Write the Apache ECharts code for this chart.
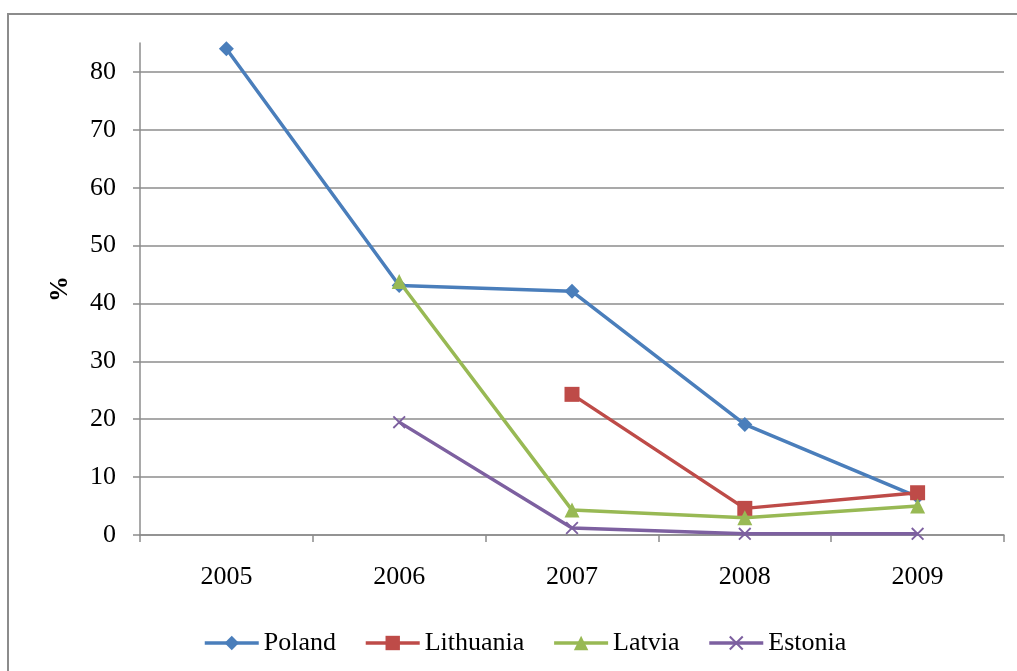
<!DOCTYPE html>
<html>
<head>
<meta charset="utf-8">
<script src="https://cdn.jsdelivr.net/npm/echarts@6/dist/echarts.min.js"></script>
<style>
html,body{margin:0;padding:0;background:#fff;overflow:hidden;}
#frame{position:absolute;left:7px;top:13px;width:1030px;height:680px;border:2px solid #8c8c8c;box-sizing:border-box;}
#chart{position:absolute;left:0;top:0;width:1017px;height:671px;}
</style>
</head>
<body>
<div id="frame"></div>
<div id="chart"></div>
<script>
const years = ['2005', '2006', '2007', '2008', '2009'];
const poland = [84, 43.1, 42.1, 19.1, 6.6];
const lithuania = [null, null, 24.3, 4.6, 7.3];
const latvia = [null, 43.8, 4.3, 3.0, 5.0];
const estonia = [null, 19.5, 1.2, 0.2, 0.2];
const yTicks = [0, 10, 20, 30, 40, 50, 60, 70, 80];

const FONT = '"Liberation Serif", "Times New Roman", serif';
const AXIS = '#8c8c8c';
const xPath = 'path://M0,1L1,0L5,4L9,0L10,1L6,5L10,9L9,10L5,6L1,10L0,9L4,5Z';

function mk(name, data, color, symbol, size) {
  return {
    name: name, type: 'line', data: data,
    symbol: symbol, symbolSize: size, showAllSymbol: true,
    lineStyle: {color: color, width: 3.5},
    itemStyle: {color: color},
    emphasis: {disabled: true},
    animation: false
  };
}

const chart = echarts.init(document.getElementById('chart'), null, {renderer: 'canvas'});
chart.setOption({
  backgroundColor: 'transparent',
  animation: false,
  textStyle: {fontFamily: FONT},
  grid: {left: 140, right: 13, top: 43, bottom: 136, containLabel: false},
  xAxis: {
    type: 'category', data: years, boundaryGap: true,
    axisLine: {lineStyle: {color: AXIS, width: 1.5}},
    axisTick: {show: true, length: 7, lineStyle: {color: AXIS, width: 1.5}},
    axisLabel: {color: '#000', fontFamily: FONT, fontSize: 26, margin: 29}
  },
  yAxis: {
    type: 'value', min: 0, max: 85, interval: 10,
    name: '%', nameLocation: 'middle', nameGap: 67, nameRotate: 90,
    nameTextStyle: {color: '#000', fontFamily: FONT, fontSize: 26, fontWeight: 'bold'},
    axisLine: {show: true, lineStyle: {color: AXIS, width: 1.5}},
    axisTick: {show: true, length: 7, lineStyle: {color: AXIS, width: 1.5}, customValues: yTicks},
    axisLabel: {color: '#000', fontFamily: FONT, fontSize: 26, margin: 24, customValues: yTicks},
    splitLine: {show: true, lineStyle: {color: AXIS, width: 1.5}}
  },
  legend: {
    top: 625, left: 198, itemWidth: 54, itemHeight: 18, itemGap: 28,
    lineStyle: {width: 3.5},
    textStyle: {color: '#000', fontFamily: FONT, fontSize: 26},
    data: ['Poland', 'Lithuania', 'Latvia', 'Estonia']
  },
  series: [
    mk('Poland', poland, '#4a7ebb', 'diamond', 15),
    mk('Lithuania', lithuania, '#be4b48', 'rect', 15),
    mk('Latvia', latvia, '#98b954', 'triangle', 15),
    mk('Estonia', estonia, '#7d60a0', xPath, 13)
  ]
});
</script>
</body>
</html>
